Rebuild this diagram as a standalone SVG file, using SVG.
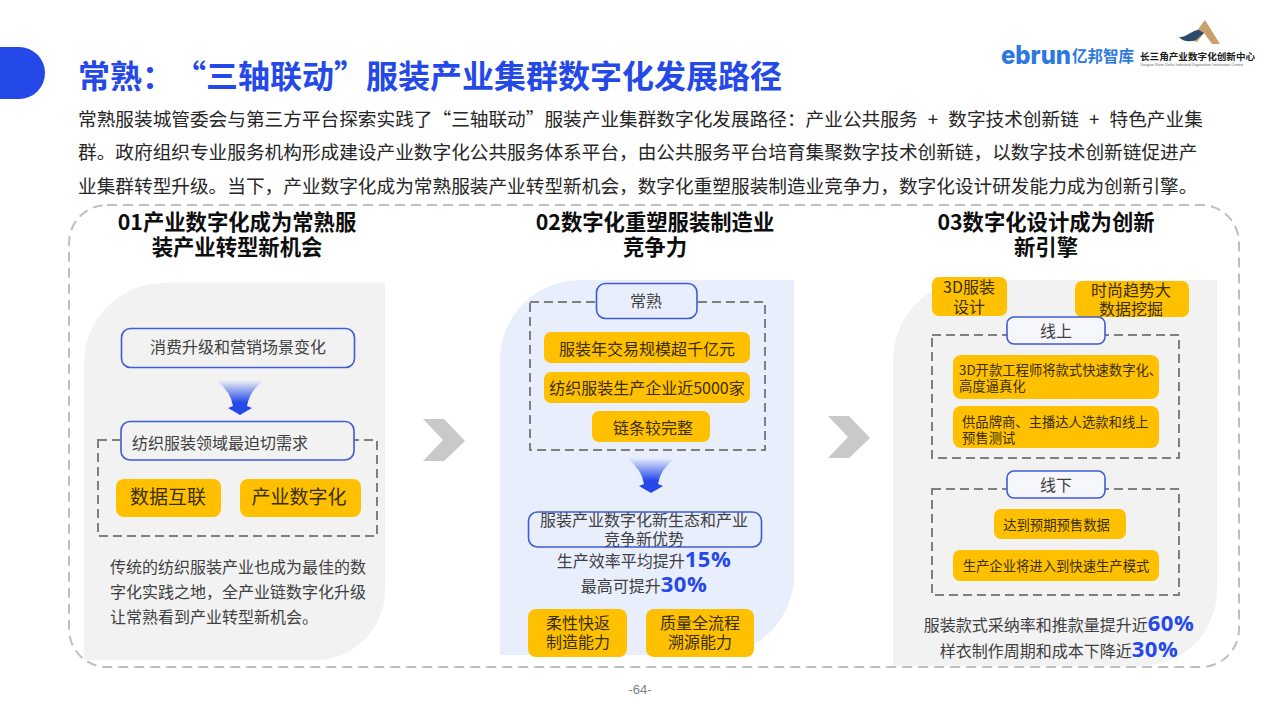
<svg xmlns="http://www.w3.org/2000/svg" width="1280" height="720" viewBox="0 0 1280 720">
<style>
text{font-family:"Noto Sans CJK SC","Microsoft YaHei",sans-serif;text-spacing-trim:space-all;}
.title{font-size:32px;font-weight:700;fill:#2449e8}
.body{font-size:18.67px;fill:#262626}
.head{font-size:21.33px;font-weight:700;fill:#0d0d0d;text-anchor:middle}
.panel-g{fill:#f2f2f2}
.panel-b{fill:#e9eefd}
.box{fill:none;stroke:#3f5bd8;stroke-width:1.6}
.boxw{fill:#f6f7fc;stroke:#3f5bd8;stroke-width:1.6}
.dash{fill:none;stroke:#7f7f7f;stroke-width:2;stroke-dasharray:9 5}
.y{fill:#ffc000}
.t{fill:#404040;text-anchor:middle;font-size:16px}
.ty{fill:#3a2f00;text-anchor:middle;font-size:16px}
.big{fill:#2449e8;font-weight:700;font-size:22px;letter-spacing:.5px;font-family:"Open Sans","Noto Sans",sans-serif}
.chev{fill:#c9c9c9}
</style>
<defs>
<linearGradient id="ag" x1="0" y1="0" x2="0" y2="1">
<stop offset="0" stop-color="#2449e8" stop-opacity="0"/>
<stop offset=".65" stop-color="#2449e8"/>
<stop offset="1" stop-color="#2449e8"/>
</linearGradient>
<path id="arr" d="M-24 0H24Q9 12 7 26L12 28L0 35L-12 28L-7 26Q-9 12 -24 0Z" fill="url(#ag)"/>
<path id="chevron" class="chev" d="M0 0H21L42 22L21 42H0L20 21Z"/>
</defs>
<path d="M0 47H19A26 26 0 0 1 45 73A26 26 0 0 1 19 99H0Z" fill="#2449e8"/>
<text class="title" x="78" y="88">常熟：“三轴联动”服装产业集群数字化发展路径</text>
<g id="logos">
<text x="1001" y="64" font-size="26" font-weight="800" fill="#2b78e0" style="font-family:'Inter',sans-serif" textLength="70" lengthAdjust="spacingAndGlyphs">ebrun</text>
<text x="1072" y="62" font-size="15.500" font-weight="700" fill="#2b78e0">亿邦智库</text>
<path d="M1190 40L1205 20L1220 44H1212L1204 33L1197 42Z" fill="#c8a06c"/>
<path d="M1179 37C1186 38 1192 30 1199 30L1204 33L1196 40C1190 42 1183 42 1179 37Z" fill="#2d4a6b"/>
<text x="1140" y="60" font-size="9.600" font-weight="700" fill="#1a1a1a">长三角产业数字化创新中心</text>
<text x="1140" y="65.500" font-size="3.900" fill="#666" style="font-family:'Liberation Sans',sans-serif">Yangtze River Delta Industrial Digitization Innovation Centre</text>
</g>
<text class="body" x="78" y="126" style="word-spacing:6px">常熟服装城管委会与第三方平台探索实践了“三轴联动”服装产业集群数字化发展路径：产业公共服务 + 数字技术创新链 + 特色产业集</text>
<text class="body" x="78" y="159">群。政府组织专业服务机构形成建设产业数字化公共服务体系平台，由公共服务平台培育集聚数字技术创新链，以数字技术创新链促进产</text>
<text class="body" x="78" y="193">业集群转型升级。当下，产业数字化成为常熟服装产业转型新机会，数字化重塑服装制造业竞争力，数字化设计研发能力成为创新引擎。</text>
<rect x="69" y="205" width="1170" height="462" rx="38" fill="none" stroke="#bfbfbf" stroke-width="2" stroke-dasharray="10 6"/>

<g id="col1">
<text class="head" x="237" y="230">01产业数字化成为常熟服</text>
<text class="head" x="237" y="255">装产业转型新机会</text>
<path class="panel-g" d="M385 283V590A70 70 0 0 1 315 660H84V363A80 80 0 0 1 164 283Z"/>
</g>
<g id="node-consume"><rect class="box" x="121.500" y="328.500" width="233" height="39" rx="9"/><text class="t" x="238" y="353">消费升级和营销场景变化</text></g>
<use href="#arr" x="240" y="380"/>
<rect class="dash" x="98" y="440" width="279" height="96"/>
<g id="node-need"><rect class="boxw" style="fill:#f2f2f2" x="121" y="421.500" width="233" height="38.500" rx="9"/><text class="t" x="220" y="449">纺织服装领域最迫切需求</text></g>
<g id="node-data"><rect class="y" x="116" y="479" width="105" height="38" rx="8"/><text class="ty" x="168" y="504" style="font-size:19px">数据互联</text></g>
<g id="node-ind"><rect class="y" x="240" y="479" width="121" height="38" rx="8"/><text class="ty" x="299" y="504" style="font-size:19px">产业数字化</text></g>
<g id="text1" font-size="16" fill="#404040">
<text x="110" y="573">传统的纺织服装产业也成为最佳的数</text>
<text x="110" y="598">字化实践之地，全产业链数字化升级</text>
<text x="110" y="623">让常熟看到产业转型新机会。</text>
</g>
<use href="#chevron" x="423" y="419"/>

<g id="col2">
<text class="head" x="655" y="230">02数字化重塑服装制造业</text>
<text class="head" x="655" y="255">竞争力</text>
<path class="panel-b" d="M794 280V575A80 80 0 0 1 714 655H500V360A80 80 0 0 1 580 280Z"/>
</g>
<rect class="dash" x="530" y="302" width="235" height="148"/>
<g id="node-cs"><rect class="boxw" style="fill:#e9eefd" x="596.500" y="283.500" width="100.500" height="35" rx="9"/><text class="t" x="646" y="307">常熟</text></g>
<g id="n2a"><rect class="y" x="544" y="332" width="206" height="31" rx="7"/><text class="ty" x="647" y="355">服装年交易规模超千亿元</text></g>
<g id="n2b"><rect class="y" x="544" y="372" width="206" height="31" rx="7"/><text class="ty" x="647" y="394">纺织服装生产企业近5000家</text></g>
<g id="n2c"><rect class="y" x="592" y="411" width="118" height="31" rx="7"/><text class="ty" x="653" y="434">链条较完整</text></g>
<use href="#arr" x="651" y="458"/>
<g id="n2d"><rect class="box" x="528.500" y="512" width="233" height="35" rx="9"/><text class="t" x="644" y="526">服装产业数字化新生态和产业</text><text class="t" x="644" y="545">竞争新优势</text></g>
<text class="t" x="644" y="567">生产效率平均提升<tspan class="big">15%</tspan></text>
<text class="t" x="644" y="592">最高可提升<tspan class="big">30%</tspan></text>
<g id="n2e"><rect class="y" x="528" y="609" width="99" height="48" rx="8"/><text class="ty" x="578" y="629">柔性快返</text><text class="ty" x="578" y="648">制造能力</text></g>
<g id="n2f"><rect class="y" x="646" y="609" width="108" height="48" rx="8"/><text class="ty" x="700" y="629">质量全流程</text><text class="ty" x="700" y="648">溯源能力</text></g>
<use href="#chevron" x="828" y="416"/>

<g id="col3">
<text class="head" x="1046" y="230">03数字化设计成为创新</text>
<text class="head" x="1046" y="255">新引擎</text>
<path class="panel-g" d="M1217 280V590A76 76 0 0 1 1141 666H893V360A80 80 0 0 1 973 280Z"/>
</g>
<g id="n3a"><rect class="y" x="932" y="277" width="75" height="39" rx="7"/><text class="ty" x="969" y="293">3D服装</text><text class="ty" x="969" y="313">设计</text></g>
<g id="n3b"><rect class="y" x="1075" y="281" width="114" height="36" rx="7"/><text class="ty" x="1131" y="296">时尚趋势大</text><text class="ty" x="1131" y="315">数据挖掘</text></g>
<rect class="dash" x="932" y="335" width="247" height="123"/>
<g id="n3c"><rect class="boxw" x="1007" y="317" width="98" height="27" rx="7"/><text class="t" x="1056" y="337">线上</text></g>
<g id="n3d"><rect class="y" x="953" y="355" width="206" height="44" rx="8"/><text class="ty" style="text-anchor:start;font-size:13.330px" x="959" y="375">3D开款工程师将款式快速数字化、</text><text class="ty" style="text-anchor:start;font-size:13.330px" x="959" y="391">高度逼真化</text></g>
<g id="n3e"><rect class="y" x="953" y="406" width="206" height="42" rx="8"/><text class="ty" style="text-anchor:start;font-size:13.330px" x="962" y="427">供品牌商、主播达人选款和线上</text><text class="ty" style="text-anchor:start;font-size:13.330px" x="962" y="443">预售测试</text></g>
<rect class="dash" x="932" y="489" width="247" height="106"/>
<g id="n3f"><rect class="boxw" x="1007" y="471" width="98" height="27" rx="7"/><text class="t" x="1056" y="491">线下</text></g>
<g id="n3g"><rect class="y" x="994" y="509" width="132" height="30" rx="7"/><text class="ty" style="font-size:13.330px" x="1056.500" y="530">达到预期预售数据</text></g>
<g id="n3h"><rect class="y" x="953" y="550" width="206" height="31" rx="7"/><text class="ty" style="font-size:13.330px" x="1056" y="571">生产企业将进入到快速生产模式</text></g>
<text class="t" x="1059" y="631">服装款式采纳率和推款量提升近<tspan class="big">60%</tspan></text>
<text class="t" x="1059" y="657">样衣制作周期和成本下降近<tspan class="big">30%</tspan></text>
<text x="640" y="694" text-anchor="middle" font-size="13" fill="#7f7f7f" style="font-family:'Liberation Sans',sans-serif">-64-</text>
</svg>
